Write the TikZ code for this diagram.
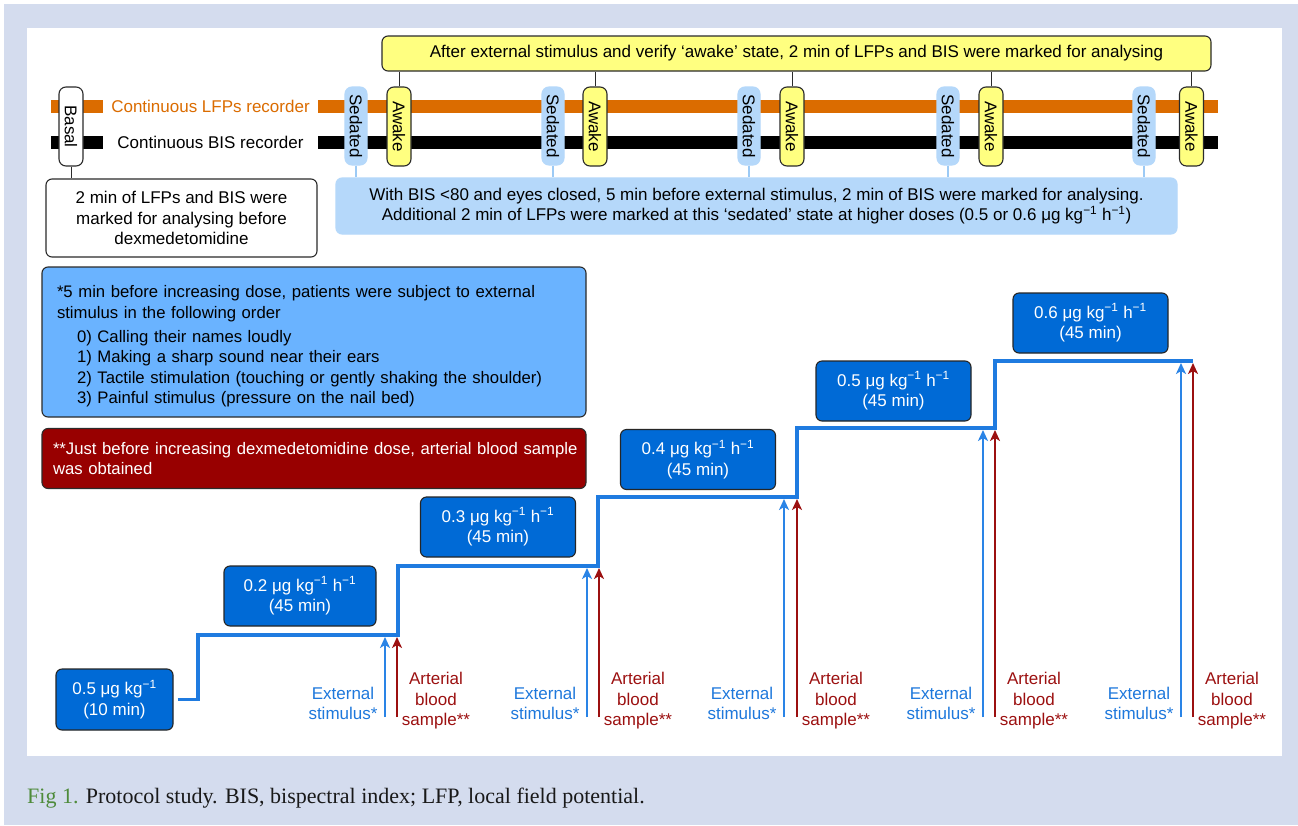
\documentclass[tikz,border=0pt]{standalone}
\usepackage{fontspec}
\setmainfont{Liberation Sans}
\newfontfamily\capfont{Liberation Serif}
\usetikzlibrary{arrows.meta,calc}
\definecolor{bgc}{HTML}{D4DCEE}
\definecolor{lfpor}{HTML}{DB6C00}
\definecolor{yel}{HTML}{FFFF80}
\definecolor{sedb}{HTML}{B5D8FA}
\definecolor{sedl}{HTML}{9CCAF5}
\definecolor{infob}{HTML}{6AB3FF}
\definecolor{redb}{HTML}{980000}
\definecolor{stepb}{HTML}{006AD6}
\definecolor{stepl}{HTML}{1F7BE0}
\definecolor{stimb}{HTML}{2A84E6}
\definecolor{stimt}{HTML}{1E78DC}
\definecolor{bldr}{HTML}{9C1010}
\definecolor{figg}{HTML}{4E8B3A}
\definecolor{bord}{HTML}{2B2B2B}
\begin{document}
\begin{tikzpicture}[x=1pt,y=-1pt,
  font=\fontsize{17}{20.5}\selectfont,
  box/.style={draw=bord, line width=1.1pt, rounded corners=6pt, inner sep=0pt, align=center},
  pill/.style={box, rounded corners=7pt},
  notebox/.style={box, align=left, font=\fontsize{16.7}{20.5}\selectfont},
  stepbox/.style={box, fill=stepb, text=white, minimum width=155pt, minimum height=60pt, draw=black!85},
  rectext/.style={fill=white, minimum width=215pt, minimum height=16pt, inner sep=0pt},
  recline/.style={line width=13pt},
  stimarr/.style={stimb, line width=1.8pt, -{Stealth[length=11pt,width=10pt,inset=3pt]}},
  bloodarr/.style={bldr, line width=1.8pt, -{Stealth[length=11pt,width=10pt,inset=3pt]}},
  stepline/.style={stepl, line width=3.5pt},
  link/.style={bord, line width=1pt},
  sedlink/.style={sedl, line width=1.3pt}]
\useasboundingbox (0,0) rectangle (1298,825);
\fill[bgc] (4,4) rectangle (1298,825);
\fill[white] (27,28) rectangle (1282,756);

% top yellow box
\node[box, fill=yel, minimum width=829pt, minimum height=35pt] (top) at (796.5,53.5)
  {After external stimulus and verify ‘awake’ state, 2 min of LFPs and BIS were marked for analysing};

% recorder lines
\coordinate (lfpL) at (51,106.5); \coordinate (lfpR) at (1218,106.5);
\coordinate (bisL) at (51,142.5); \coordinate (bisR) at (1218,142.5);
\draw[lfpor, recline] (lfpL) -- (lfpR);
\draw[black, recline] (bisL) -- (bisR);
\node[rectext, text=lfpor] (lfpt) at (210.5,106.5) {Continuous LFPs recorder};
\node[rectext] (bist) at (210.5,142.5) {Continuous BIS recorder};

% basal
\node[pill, fill=white, minimum width=24pt, minimum height=79pt] (basal) at (71,126.5) {\rotatebox{-90}{Basal}};
\node[box, fill=white, minimum width=271pt, minimum height=78pt] (basalt) at (181.5,218)
  {2 min of LFPs and BIS were\\marked for analysing before\\dexmedetomidine};
\draw[link] (basal.south) -- (basal.south |- basalt.north);

% sedated info box
\node[box, draw=sedb, fill=sedb, minimum width=841pt, minimum height=56pt] (sedt) at (756.5,206)
  {With BIS <80 and eyes closed, 5 min before external stimulus, 2 min of BIS were marked for analysing.\\
   Additional 2 min of LFPs were marked at this ‘sedated’ state at higher doses (0.5 or 0.6 μg kg\textsuperscript{−1} h\textsuperscript{−1})};

% sedated / awake markers
\foreach \i/\sx/\ax in {1/356/399, 2/553/595, 3/749/792, 4/948/991, 5/1144/1191.5}{
  \node[pill, draw=sedb, fill=sedb, minimum width=22pt, minimum height=78pt] (sed\i) at (\sx,126) {\rotatebox{-90}{Sedated}};
  \node[pill, fill=yel, minimum width=24pt, minimum height=79pt] (awk\i) at (\ax,126.5) {\rotatebox{-90}{Awake}};
  \draw[link] (awk\i.north) -- (awk\i.north |- top.south);
  \draw[sedlink] (sed\i.south) -- (sed\i.south |- sedt.north);
}

% explanation boxes
\node[notebox, fill=infob, text width=514pt, inner xsep=15pt, minimum height=150pt] (info) at (314,342)
  {\rule{0pt}{21.3pt}\mbox{*5 min before increasing dose, patients were subject to external}\\
   stimulus in the following order\\[3.5pt]
   \hspace*{20pt}0) Calling their names loudly\\
   \hspace*{20pt}1) Making a sharp sound near their ears\\
   \hspace*{20pt}\mbox{2) Tactile stimulation (touching or gently shaking the shoulder)}\\
   \hspace*{20pt}3) Painful stimulus (pressure on the nail bed)};
\node[notebox, fill=redb, text=white, text width=522pt, inner xsep=11pt, minimum height=60pt] (blood) at (314,458.5)
  {\mbox{**Just before increasing dexmedetomidine dose, arterial blood sample}\\was obtained};

% dose steps
\node[stepbox, minimum width=117pt, minimum height=61pt] (b0) at (114.5,699.5) {0.5 μg kg\textsuperscript{−1}\\(10 min)};
\node[stepbox, minimum width=152pt] (b1) at (300,596) {0.2 μg kg\textsuperscript{−1} h\textsuperscript{−1}\\(45 min)};
\node[stepbox] (b2) at (498,527) {0.3 μg kg\textsuperscript{−1} h\textsuperscript{−1}\\(45 min)};
\node[stepbox] (b3) at (698,459.5) {0.4 μg kg\textsuperscript{−1} h\textsuperscript{−1}\\(45 min)};
\node[stepbox] (b4) at (893.5,391) {0.5 μg kg\textsuperscript{−1} h\textsuperscript{−1}\\(45 min)};
\node[stepbox] (b5) at (1090.5,323) {0.6 μg kg\textsuperscript{−1} h\textsuperscript{−1}\\(45 min)};

\coordinate (t1) at (198,635); \coordinate (t2) at (398,566); \coordinate (t3) at (598,497);
\coordinate (t4) at (797,428); \coordinate (t5) at (995,361); \coordinate (tend) at (1193,361);
\draw[stepline] ([xshift=4pt]b0.east) -| (t1) -| (t2) -| (t3) -| (t4) -| (t5) -- (tend);

% arrows and labels
\foreach \i/\b/\r/\lv in {1/385/397/635, 2/587/599/566, 3/784/797/497, 4/983/995/428, 5/1181/1193/361}{
  \coordinate (sa\i) at (\b,717); \coordinate (sz\i) at (\b,{\lv+2});
  \coordinate (ba\i) at (\r,717); \coordinate (bz\i) at (\r,{\lv+2});
  \draw[stimarr] (sa\i) -- (sz\i);
  \draw[bloodarr] (ba\i) -- (bz\i);
  \node[text=stimt, align=center, inner sep=0pt] (es\i) at ({\b-42},703.5) {External\\stimulus*};
  \node[text=bldr, align=center, inner sep=0pt] (ab\i) at ({\r+39},701) {Arterial\\blood\\sample**};
}

% caption
\node[anchor=base west, inner sep=0pt, text=black!90, font=\capfont\fontsize{22}{26}\selectfont] (cap) at (27,803)
  {\textcolor{figg}{Fig 1.} Protocol study. BIS, bispectral index; LFP, local field potential.};
\end{tikzpicture}
\end{document}
